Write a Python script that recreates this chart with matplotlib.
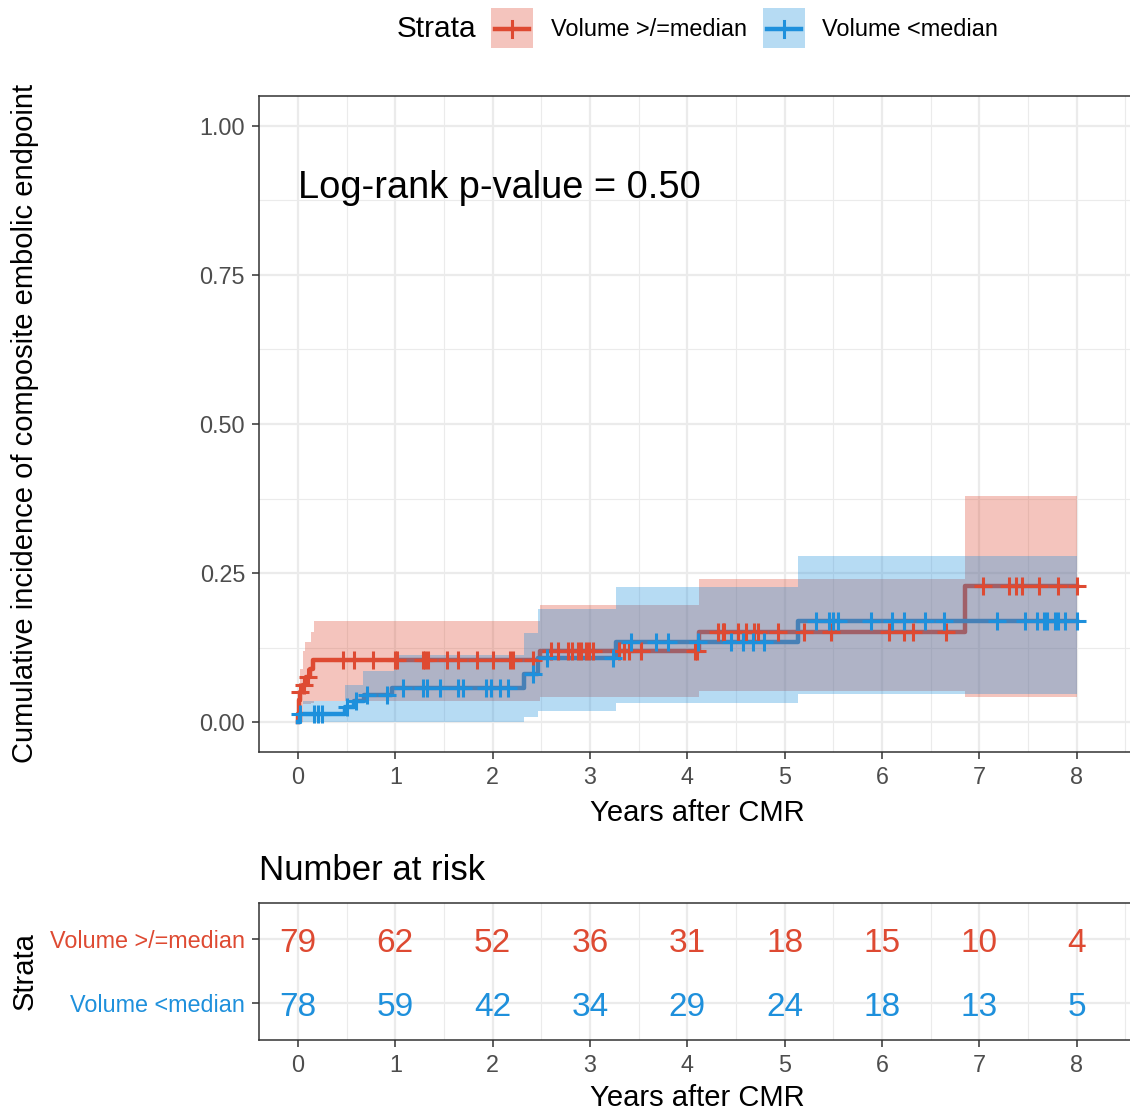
import numpy as np
import matplotlib.pyplot as plt
from matplotlib.lines import Line2D
from matplotlib.patches import Rectangle

plt.rcParams['font.family'] = ['Liberation Sans', 'DejaVu Sans']

red = '#DE4A32'
blue = '#1E90DC'
labels = ['Volume >/=median', 'Volume <median']

# Volume >/=median : events, cumulative incidence, censoring times
hi_event_t = [0.005, 0.01, 0.015, 0.02, 0.05, 0.08, 0.12, 0.15, 2.49, 4.12, 6.85]
hi_cuminc = [0.013, 0.025, 0.038, 0.051, 0.063, 0.076, 0.089, 0.104, 0.120, 0.152, 0.229]
hi_censor = [0.02, 0.06, 0.10, 0.46, 0.58, 0.77, 1.0, 1.02, 1.28, 1.31, 1.34, 1.53, 1.64,
             1.84, 2.0, 2.18, 2.21, 2.41, 2.6, 2.67, 2.77, 2.82, 2.88, 2.91, 2.96, 2.99,
             3.03, 3.30, 3.35, 3.40, 3.52, 4.08, 4.10, 4.32, 4.37, 4.38, 4.52, 4.60, 4.69,
             4.73, 4.93, 5.20, 5.48, 6.07, 6.23, 6.32, 6.66, 7.04, 7.31, 7.38, 7.44, 7.61,
             7.81, 8.0]
hi_band_t = [0.0, 0.02, 0.05, 0.07, 0.13, 0.17, 2.34, 2.49, 4.12, 6.85, 8.0]
hi_lower = [0.0, 0.0, 0.03, 0.03, 0.032, 0.035, 0.035, 0.043, 0.053, 0.043, 0.043]
hi_upper = [0.0, 0.09, 0.12, 0.134, 0.152, 0.169, 0.169, 0.197, 0.24, 0.38, 0.38]

# Volume <median
lo_event_t = [0.02, 0.48, 0.58, 0.68, 0.97, 2.32, 2.47, 3.27, 5.14]
lo_cuminc = [0.013, 0.025, 0.035, 0.045, 0.057, 0.080, 0.107, 0.135, 0.169]
lo_censor = [0.02, 0.16, 0.21, 0.25, 0.5, 0.6, 0.71, 0.91, 1.08, 1.29, 1.33, 1.46, 1.64,
             1.7, 1.93, 1.98, 2.08, 2.16, 2.42, 2.56, 3.24, 3.42, 3.68, 3.8, 4.11, 4.45,
             4.57, 4.68, 4.79, 5.32, 5.46, 5.5, 5.55, 5.89, 6.1, 6.23, 6.44, 6.64, 7.18,
             7.47, 7.59, 7.66, 7.70, 7.78, 7.81, 7.88, 8.0]
lo_band_t = [0.0, 0.05, 0.48, 0.67, 0.99, 2.32, 2.47, 3.27, 5.14, 8.0]
lo_lower = [0.0, 0.0, 0.0, 0.0, 0.0, 0.008, 0.018, 0.032, 0.047, 0.047]
lo_upper = [0.0, 0.036, 0.063, 0.085, 0.112, 0.15, 0.189, 0.227, 0.279, 0.279]

end_time = 8.0

# number at risk
risk_t = [0, 1, 2, 3, 4, 5, 6, 7, 8]
hi_risk = [79, 62, 52, 36, 31, 18, 15, 10, 4]
lo_risk = [78, 59, 42, 34, 29, 24, 18, 13, 5]

W, H = 1130, 1112
fig = plt.figure(figsize=(W / 100, H / 100), dpi=100)

def fx(px):
    return px / W

def fy(px):
    return 1 - px / H

grid_c = '#EBEBEB'
border_c = '#333333'
tick_c = '#4D4D4D'

xlim = (-0.4, 8.6)
ax = fig.add_axes([fx(259), fy(752), fx(1135) - fx(259), fy(96) - fy(752)])

def curve(ev_t, ev_y):
    t = np.r_[0.0, ev_t, end_time]
    y = np.r_[0.0, ev_y, ev_y[-1]]
    return t, y

def value_at(ev_t, ev_y, tt):
    t = np.r_[0.0, ev_t]
    y = np.r_[0.0, ev_y]
    idx = np.searchsorted(t, tt, side='right') - 1
    return y[idx]

groups = [
    (hi_event_t, hi_cuminc, hi_censor, hi_band_t, hi_lower, hi_upper, red),
    (lo_event_t, lo_cuminc, lo_censor, lo_band_t, lo_lower, lo_upper, blue),
]
for ev_t, ev_y, cens, bt, bl, bu, col in groups:
    t, y = curve(ev_t, ev_y)
    ax.step(t, y, where='post', color=col, lw=3.2, zorder=2)
    ax.fill_between(bt, bl, bu, step='post', color=col, alpha=0.32, lw=0, zorder=3)
    cy = value_at(ev_t, ev_y, np.array(cens))
    ax.plot(cens, cy, ls='none', marker='+', ms=13, mew=2.2, color=col, zorder=4)

ax.set_xticks(range(0, 9))
ax.set_xticks(np.arange(0.5, 8.6, 1.0), minor=True)
ax.set_yticks([0, 0.25, 0.5, 0.75, 1.0])
ax.set_yticklabels(['0.00', '0.25', '0.50', '0.75', '1.00'])
ax.set_yticks([0.125, 0.375, 0.625, 0.875], minor=True)
ax.set_xlim(*xlim)
ax.set_ylim(-0.05, 1.05)
ax.grid(which='major', color=grid_c, lw=1.6, zorder=0)
ax.grid(which='minor', color=grid_c, lw=0.8, zorder=0)
ax.set_axisbelow(True)
ax.tick_params(which='major', labelsize=16.8, colors=border_c, labelcolor=tick_c,
               length=5, width=1.1, pad=5)
ax.tick_params(which='minor', length=0)
for s in ax.spines.values():
    s.set_color(border_c)
    s.set_linewidth(1.1)
ax.set_xlabel('Years after CMR', fontsize=21, labelpad=7)
ax.text(0.0, 0.895, 'Log-rank p-value = 0.50', fontsize=27.4, va='center', ha='left')
fig.text(fx(25), fy(423), 'Cumulative incidence of composite embolic endpoint',
         rotation=90, fontsize=21, ha='center', va='center')

# legend
fig.text(fx(397), fy(29), 'Strata', fontsize=21.4, ha='left', va='center')
for lab, col, bx, tx in [(labels[0], red, 491, 551), (labels[1], blue, 763, 822)]:
    fig.add_artist(Rectangle((fx(bx), fy(48)), fx(42), fy(8) - fy(48),
                             transform=fig.transFigure, color=col, alpha=0.32, lw=0))
    fig.add_artist(Line2D([fx(bx + 4), fx(bx + 38)], [fy(29), fy(29)],
                          transform=fig.transFigure, color=col, lw=3.2))
    fig.add_artist(Line2D([fx(bx + 21), fx(bx + 21)], [fy(21), fy(37)],
                          transform=fig.transFigure, color=col, lw=2.2))
    fig.text(fx(tx), fy(29), lab, fontsize=16.9, ha='left', va='center')

# risk table
ax2 = fig.add_axes([fx(259), fy(1040), fx(1135) - fx(259), fy(903) - fy(1040)])
for yrow, vals, col in [(2, hi_risk, red), (1, lo_risk, blue)]:
    for t, v in zip(risk_t, vals):
        ax2.annotate(str(v), (t, yrow), xytext=(0, -3), textcoords='offset points',
                     color=col, fontsize=24, ha='center', va='center')
ax2.set_xticks(range(0, 9))
ax2.set_xticks(np.arange(0.5, 8.6, 1.0), minor=True)
ax2.set_yticks([1, 2])
ax2.set_yticklabels([labels[1], labels[0]])
ax2.set_xlim(*xlim)
ax2.set_ylim(0.422, 2.5625)
ax2.grid(which='major', color=grid_c, lw=1.6, zorder=0)
ax2.grid(which='minor', axis='x', color=grid_c, lw=0.8, zorder=0)
ax2.set_axisbelow(True)
ax2.tick_params(which='major', labelsize=16.8, colors=border_c, labelcolor=tick_c,
                length=5, width=1.1, pad=5)
ax2.tick_params(axis='y', labelsize=16.8, pad=5)
ax2.tick_params(which='minor', length=0)
for lab, col in zip(ax2.get_yticklabels(), [blue, red]):
    lab.set_color(col)
for s in ax2.spines.values():
    s.set_color(border_c)
    s.set_linewidth(1.1)
ax2.set_xlabel('Years after CMR', fontsize=21, labelpad=5)
ax2.text(0, 1.115, 'Number at risk', transform=ax2.transAxes, fontsize=25,
         ha='left', va='bottom')
fig.text(fx(25), fy(971), 'Strata', rotation=90, fontsize=21, ha='center', va='center')

fig.savefig('out.png', dpi=100)
